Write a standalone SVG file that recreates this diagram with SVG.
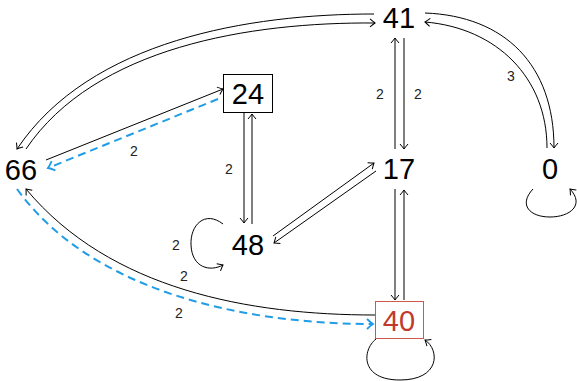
<svg xmlns="http://www.w3.org/2000/svg" width="577" height="381" viewBox="0 0 577 381">
<defs>
<marker id="ar" markerUnits="userSpaceOnUse" markerWidth="12" markerHeight="12" viewBox="-6 -6 12 12" refX="0" refY="0" orient="auto" overflow="visible">
<path d="M-5,-4 Q-1.5,-1 0,0 Q-1.5,1 -5,4" fill="none" stroke="#000" stroke-width="1"/>
</marker>
<marker id="ab" markerUnits="userSpaceOnUse" markerWidth="12" markerHeight="12" viewBox="-6 -6 12 12" refX="0" refY="0" orient="auto" overflow="visible">
<path d="M-6,-5 Q-2,-1.2 0,0 Q-2,1.2 -6,5" fill="none" stroke="#1f9de6" stroke-width="1.8"/>
</marker>
</defs>
<style>
.e{fill:none;stroke:#000;stroke-width:1;marker-end:url(#ar)}
.d{fill:none;stroke:#1f9de6;stroke-width:2;stroke-dasharray:8 5;marker-end:url(#ab)}
.n{font-family:"Liberation Sans",Arial,sans-serif;font-size:29px;text-anchor:middle;fill:#000}
.l{font-family:"Liberation Sans",Arial,sans-serif;font-size:14px;text-anchor:middle;fill:#222}
</style>
<g id="edges">
<path class="e" d="M374,14 C250,14 90,40 17,149"/>
<path class="e" d="M26,149 C95,47 250,22 375,23"/>
<path class="e" d="M46,160 L223,89"/>
<path class="d" d="M218,99 L48,168"/>
<path class="e" d="M244,113 L244,223"/>
<path class="e" d="M252,224 L252,114"/>
<path class="e" d="M273,236 L374,163"/>
<path class="e" d="M376,171 L274,243"/>
<path class="e" d="M395,149 L395,38"/>
<path class="e" d="M404,38 L404,149"/>
<path class="e" d="M425,13 C505,16 554,65 554,148"/>
<path class="e" d="M547,148 C547,78 497,28 425,22"/>
<path class="e" d="M533,189 C518,205 530,217 550,217 C570,217 585,205 570,189"/>
<path class="e" d="M223,224 C205,210 190,225 191,245 C192,268 210,272 223,265"/>
<path class="e" d="M375,315 C250,315 110,290 26,189"/>
<path class="d" d="M17,189 C90,290 240,324 373,324"/>
<path class="e" d="M395,189 L395,300"/>
<path class="e" d="M404,300 L404,190"/>
<path class="e" d="M376,339 C362,350 360,380 400,380 C440,380 440,350 425,340"/>
</g>
<g id="labels">
<text class="l" x="134" y="156">2</text>
<text class="l" x="229" y="174">2</text>
<text class="l" x="380" y="99">2</text>
<text class="l" x="418" y="99">2</text>
<text class="l" x="511" y="81">3</text>
<text class="l" x="176" y="250">2</text>
<text class="l" x="184" y="281">2</text>
<text class="l" x="179" y="318">2</text>
</g>
<g id="n41"><text class="n" x="399" y="28">41</text></g>
<g id="n24"><rect x="223.5" y="74.5" width="49" height="38" fill="#fff" stroke="#000" stroke-width="1"/><text class="n" x="248" y="104">24</text></g>
<g id="n66"><text class="n" x="21" y="180">66</text></g>
<g id="n17"><text class="n" x="399" y="179">17</text></g>
<g id="n0"><text class="n" x="550" y="179">0</text></g>
<g id="n48"><text class="n" x="248" y="255">48</text></g>
<g id="n40"><rect x="375.5" y="301.5" width="48" height="37" fill="#fff" stroke="#cc5a4a" stroke-width="1"/><text class="n" x="399" y="331" style="fill:#c0392b">40</text></g>
</svg>
